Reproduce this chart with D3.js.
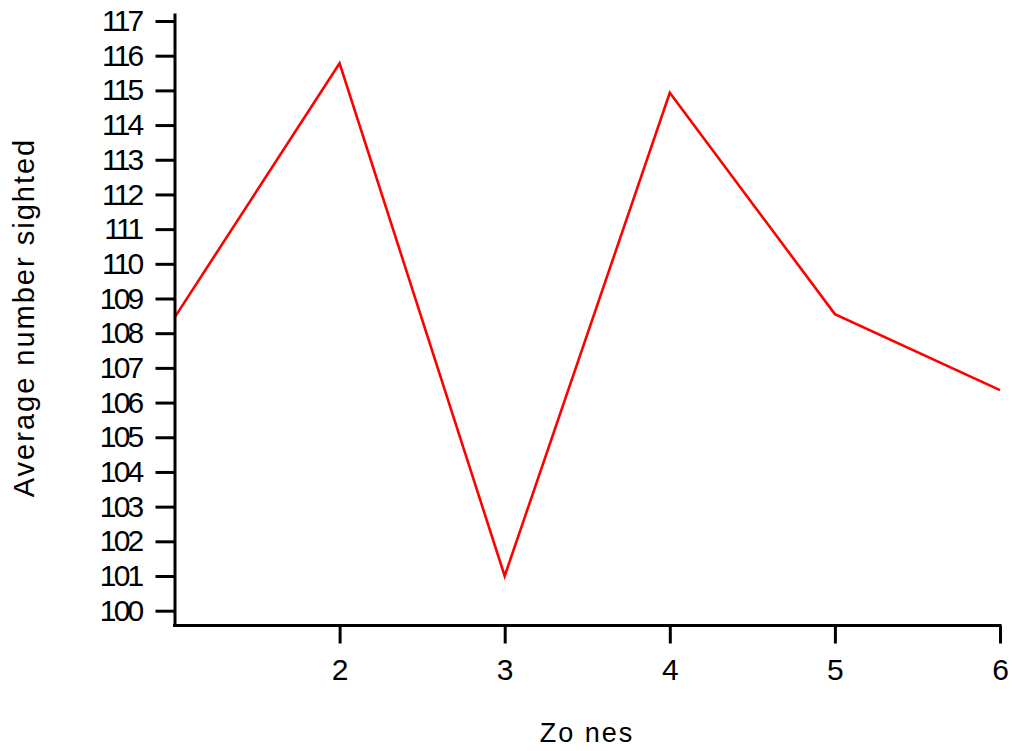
<!DOCTYPE html>
<html>
<head>
<meta charset="utf-8">
<script src="https://cdn.jsdelivr.net/npm/d3@7"></script>
<style>
  body { margin: 0; background: #fff; }
  svg { display: block; font-family: "Liberation Sans", Arial, sans-serif; }
</style>
</head>
<body>
<svg id="chart" width="1012" height="751"></svg>
<script>
const zones = [1, 2, 3, 4, 5, 6];
const sighted = [108.45, 115.78, 101.0, 114.93, 108.55, 106.36];
const xTickValues = [2, 3, 4, 5, 6];
const yTickValues = [100, 101, 102, 103, 104, 105, 106, 107, 108, 109, 110, 111, 112, 113, 114, 115, 116, 117];
const xTitle = "Zo nes";
const yTitle = "Average number sighted";

const svg = d3.select("#chart");
svg.append("rect").attr("width", 1012).attr("height", 751).attr("fill", "#fff");

const x = d3.scaleLinear().domain([1, 6]).range([174.5, 1000]);
const y = d3.scaleLinear().domain([100, 117]).range([610.7, 21]);
const yBottom = 625.5, yTop = 13;
y.domain([y.invert(yBottom), y.invert(yTop)]).range([yBottom, yTop]);

// line
const line = d3.line().x((d, i) => x(zones[i])).y(d => y(d));
svg.append("path")
  .datum(sighted)
  .attr("d", line)
  .attr("fill", "none")
  .attr("stroke", "#ff0000")
  .attr("stroke-width", 2.6)
  .attr("stroke-linejoin", "miter");

// y axis
const yAxis = svg.append("g")
  .attr("transform", `translate(${x(1)},0)`)
  .call(d3.axisLeft(y).tickValues(yTickValues).tickFormat(d3.format("d")).tickSize(19).tickSizeOuter(0).tickPadding(14));

// x axis
const xAxis = svg.append("g")
  .attr("transform", `translate(0,${yBottom})`)
  .call(d3.axisBottom(x).tickValues(xTickValues).tickFormat(d3.format("d")).tickSize(18).tickSizeOuter(0).tickPadding(15));

[yAxis, xAxis].forEach(g => {
  g.select(".domain").attr("stroke", "#000").attr("stroke-width", 3);
  g.selectAll(".tick line").attr("stroke", "#000").attr("stroke-width", 3);
  g.selectAll(".tick text")
    .attr("fill", "#000")
    .style("font-size", "30px")
    .style("font-family", "'Liberation Sans', Arial, sans-serif");
});
yAxis.selectAll(".tick text").style("letter-spacing", "-2.8px");

// extend x-axis domain to join y axis corner
xAxis.select(".domain").attr("d", `M${x(1) - 1.5},0H${x(6) + 1.5}`);

// axis titles
svg.append("text")
  .attr("transform", `translate(34,${(138 + 497) / 2}) rotate(-90)`)
  .attr("text-anchor", "middle")
  .style("font-size", "29px")
  .style("letter-spacing", "2px")
  .attr("fill", "#000")
  .text(yTitle);

svg.append("text")
  .attr("x", 587)
  .attr("y", 742)
  .attr("text-anchor", "middle")
  .style("font-size", "27px")
  .style("letter-spacing", "2px")
  .attr("fill", "#000")
  .text(xTitle);
</script>
</body>
</html>
